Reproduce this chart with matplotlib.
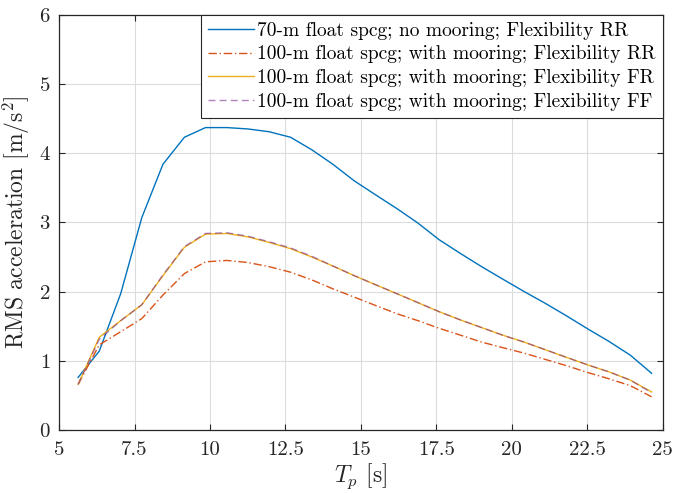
import matplotlib

matplotlib.use("Agg")
import matplotlib.pyplot as plt

# === DATA ===
TP = [5.63, 6.33, 7.04, 7.74, 8.44, 9.15, 9.85, 10.56, 11.26, 11.96,
      12.67, 13.37, 14.07, 14.78, 15.48, 16.19, 16.89, 17.59, 18.30, 19.00,
      19.70, 20.41, 21.11, 21.81, 22.52, 23.22, 23.93, 24.63]

RMS_70_RR = [0.76, 1.14, 1.97, 3.07, 3.84, 4.23, 4.37, 4.37, 4.35, 4.31,
             4.23, 4.05, 3.84, 3.60, 3.40, 3.20, 2.99, 2.75, 2.55, 2.36,
             2.18, 2.00, 1.83, 1.65, 1.46, 1.28, 1.08, 0.82]

RMS_100_RR = [0.66, 1.23, 1.42, 1.61, 1.95, 2.26, 2.43, 2.45, 2.42, 2.36,
              2.28, 2.17, 2.04, 1.92, 1.80, 1.68, 1.58, 1.47, 1.37, 1.27,
              1.19, 1.11, 1.02, 0.93, 0.83, 0.74, 0.64, 0.48]

RMS_100_FR = [0.66, 1.34, 1.58, 1.81, 2.23, 2.64, 2.83, 2.84, 2.79, 2.71,
              2.62, 2.50, 2.37, 2.23, 2.10, 1.97, 1.84, 1.71, 1.59, 1.48,
              1.37, 1.27, 1.16, 1.05, 0.94, 0.84, 0.72, 0.55]

RMS_100_FF = [0.66, 1.31, 1.58, 1.81, 2.24, 2.65, 2.84, 2.85, 2.80, 2.72,
              2.63, 2.51, 2.37, 2.23, 2.10, 1.97, 1.84, 1.71, 1.59, 1.48,
              1.37, 1.27, 1.16, 1.05, 0.94, 0.84, 0.72, 0.54]

LABELS = [
    "70-m float spcg; no mooring; Flexibility RR",
    "100-m float spcg; with mooring; Flexibility RR",
    "100-m float spcg; with mooring; Flexibility FR",
    "100-m float spcg; with mooring; Flexibility FF",
]

XTICKS = [5, 7.5, 10, 12.5, 15, 17.5, 20, 22.5, 25]
XTICKLABELS = ["5", "7.5", "10", "12.5", "15", "17.5", "20", "22.5", "25"]
YTICKS = [0, 1, 2, 3, 4, 5, 6]

# MATLAB default colour order
C_BLUE = "#0072BD"
C_ORANGE = "#D95319"
C_YELLOW = "#EDB120"
C_PURPLE = "#7E2F8E"
AX_COL = "#262626"

plt.rcParams["font.family"] = "serif"
plt.rcParams["font.serif"] = ["cmr10", "DejaVu Serif"]
plt.rcParams["mathtext.fontset"] = "cm"
plt.rcParams["axes.formatter.use_mathtext"] = True

fig = plt.figure(figsize=(6.75, 4.93), dpi=100)
ax = fig.add_axes([0.0876, 0.1278, 0.8942, 0.8422])

ax.plot(TP, RMS_70_RR, color=C_BLUE, lw=1.0, label=LABELS[0])
ax.plot(TP, RMS_100_RR, color=C_ORANGE, lw=1.0, linestyle=(0, (6, 2, 1, 2)), label=LABELS[1])
ax.plot(TP, RMS_100_FR, color=C_YELLOW, lw=1.0, label=LABELS[2])
ax.plot(TP, RMS_100_FF, color=C_PURPLE, lw=1.0, linestyle=(0, (5, 3)), alpha=0.6, label=LABELS[3])

ax.set_xlim(5, 25)
ax.set_ylim(0, 6)
ax.set_xticks(XTICKS)
ax.set_xticklabels(XTICKLABELS)
ax.set_yticks(YTICKS)

ax.grid(True, color="#dcdcdc", lw=0.8)
ax.set_axisbelow(True)
for sp in ax.spines.values():
    sp.set_color(AX_COL)
    sp.set_linewidth(0.9)
ax.tick_params(direction="in", top=True, right=True, length=4, width=0.8,
               colors=AX_COL, labelsize=15)
ax.tick_params(axis="x", pad=8)
ax.tick_params(axis="y", pad=6)

ax.set_xlabel(r"$T_p$ [s]", fontsize=17, color=AX_COL, labelpad=2)
ax.set_ylabel(r"RMS acceleration [m/s$^2$]", fontsize=17, color=AX_COL, labelpad=5)

leg = ax.legend(loc="upper right", fontsize=14, frameon=True, fancybox=False,
                borderaxespad=0, handlelength=2.4, handletextpad=0.15,
                labelspacing=0.3, borderpad=0.35)
leg.get_frame().set_edgecolor(AX_COL)
leg.get_frame().set_linewidth(0.8)
leg.get_frame().set_alpha(1.0)

fig.savefig("out.png", dpi=100)
